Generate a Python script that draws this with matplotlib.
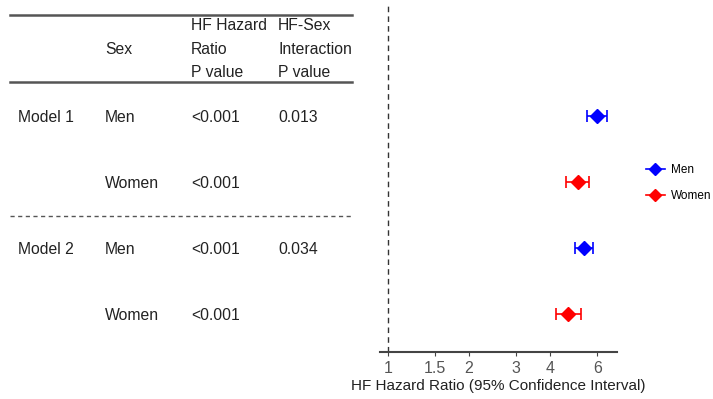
import numpy as np
import matplotlib.pyplot as plt
from matplotlib.ticker import FixedLocator, NullLocator, FixedFormatter

plt.rcParams['font.family'] = ['Liberation Sans', 'DejaVu Sans']

models = ['Model 1', '', 'Model 2', '']
sexes = ['Men', 'Women', 'Men', 'Women']
hr_p = ['<0.001', '<0.001', '<0.001', '<0.001']
inter_p = ['0.013', '', '0.034', '']
hr = [6.0, 5.1, 5.35, 4.65]
ci_low = [5.5, 4.6, 4.95, 4.2]
ci_high = [6.5, 5.6, 5.8, 5.2]
colors = ['blue', 'red', 'blue', 'red']
ticks = [1, 1.5, 2, 3, 4, 6]
tick_labels = ['1', '1.5', '2', '3', '4', '6']

W, H = 713, 399
fig = plt.figure(figsize=(W / 100, H / 100), dpi=100)

# rows are drawn at y = 4, 3, 2, 1 ; 66 px per row
rows = np.arange(len(sexes), 0, -1)
ylo, yhi = 0.424, 5.68

def py(p):
    # pixel row -> data y
    return 4 + (116 - p) / 66.0

ax = fig.add_axes([380 / W, 1 - 352 / H, (617 - 380) / W, (352 - 5) / H])
ax.set_xscale('log')
ax.set_xlim(0.934, 7.1)
ax.set_ylim(ylo, yhi)
for i in range(len(hr)):
    ax.errorbar(hr[i], rows[i], xerr=[[hr[i] - ci_low[i]], [ci_high[i] - hr[i]]],
                fmt='D', color=colors[i], ms=7, capsize=4.5, elinewidth=1.2, capthick=1.2)
ax.axvline(1, color='#333333', ls=(0, (4, 3)), lw=1)
for s in ['top', 'right', 'left']:
    ax.spines[s].set_visible(False)
ax.spines['bottom'].set_color('#444444')
ax.spines['bottom'].set_linewidth(1.5)
ax.xaxis.set_major_locator(FixedLocator(ticks))
ax.xaxis.set_major_formatter(FixedFormatter(tick_labels))
ax.xaxis.set_minor_locator(NullLocator())
ax.tick_params(axis='x', colors='#444444', labelsize=11.5, length=3, labelcolor='#555555')
ax.set_yticks([])
ax.set_xlabel('HF Hazard Ratio (95% Confidence Interval)', fontsize=11, color='#222222', labelpad=2)

# legend
hm = plt.Line2D([], [], color='blue', marker='D', ms=6, lw=1.2)
hw = plt.Line2D([], [], color='red', marker='D', ms=6, lw=1.2)
fig.legend([hm, hw], ['Men', 'Women'], loc='upper left', bbox_to_anchor=(646 / W, 1 - 164 / H),
           frameon=False, fontsize=8.5, handlelength=1.6, handletextpad=0.5, labelspacing=1.2,
           borderpad=0, borderaxespad=0)

# table
tb = fig.add_axes([0, 1 - 352 / H, 380 / W, (352 - 5) / H])
tb.set_xlim(0, 380)
tb.set_ylim(ylo, yhi)
tb.axis('off')
cols = [18, 105, 191, 278]
fs = 11.3
tc = '#222222'
tb.plot([10, 352], [py(15), py(15)], color='#555555', lw=1.8)
tb.plot([10, 352], [py(82), py(82)], color='#555555', lw=1.8)
tb.plot([10, 352], [py(216), py(216)], color='#555555', lw=1, ls=(0, (3, 2.5)))
tb.text(cols[1], py(50), 'Sex', fontsize=fs, color=tc, va='center')
for yy, t2, t3 in [(26, 'HF Hazard', 'HF-Sex'), (50, 'Ratio', 'Interaction'), (73, 'P value', 'P value')]:
    tb.text(cols[2], py(yy), t2, fontsize=fs, color=tc, va='center')
    tb.text(cols[3], py(yy), t3, fontsize=fs, color=tc, va='center')
for i in range(len(sexes)):
    for c, t in zip(cols, [models[i], sexes[i], hr_p[i], inter_p[i]]):
        tb.text(c, py(116 + 66 * i) - 2 / 66.0, t, fontsize=fs, color=tc, va='center')

fig.savefig('out.png', dpi=100)
